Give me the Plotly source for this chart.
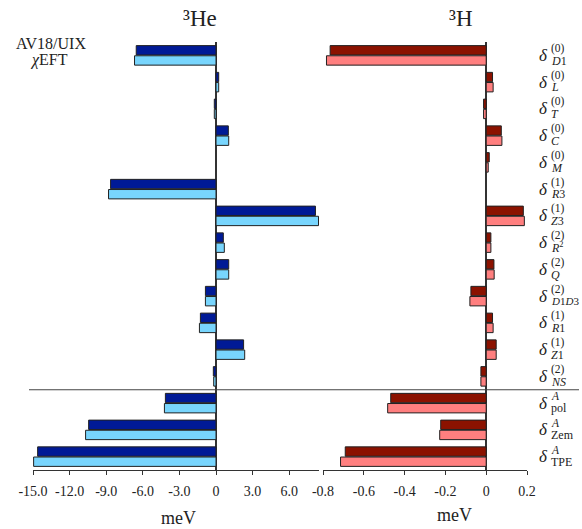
import plotly.graph_objects as go

# ---- data (meV) ----
rows = ["D1", "L", "T", "C", "M", "R3", "Z3", "R2", "Q", "D1D3", "R1", "Z1", "NS", "pol", "Zem", "TPE"]
sub_labels = ["<i>D</i>1", "<i>L</i>", "<i>T</i>", "<i>C</i>", "<i>M</i>", "<i>R</i>3", "<i>Z</i>3",
              "<i>R</i><sup>2</sup>", "<i>Q</i>", "<i>D</i>1<i>D</i>3", "<i>R</i>1", "<i>Z</i>1",
              "<i>NS</i>", "pol", "Zem", "TPE"]
sup_labels = ["(0)", "(0)", "(0)", "(0)", "(0)", "(1)", "(1)", "(2)", "(2)", "(2)", "(1)", "(1)", "(2)",
              "<i>A</i>", "<i>A</i>", "<i>A</i>"]

he_av18 = [-6.54, 0.22, -0.14, 1.01, None, -8.64, 8.15, 0.60, 1.04, -0.87, -1.28, 2.26, -0.22, -4.15, -10.44, -14.62]
he_eft = [-6.68, 0.22, -0.14, 1.04, None, -8.81, 8.40, 0.68, 1.04, -0.87, -1.36, 2.35, -0.19, -4.23, -10.69, -14.95]
h_av18 = [-0.765, 0.031, -0.013, 0.074, 0.015, None, 0.182, 0.023, 0.038, -0.075, 0.031, 0.049, -0.026, -0.468, -0.223, -0.691]
h_eft = [-0.783, 0.034, -0.013, 0.077, 0.010, None, 0.187, 0.023, 0.039, -0.080, 0.034, 0.049, -0.026, -0.483, -0.228, -0.714]

he_tickvals = [-15, -12, -9, -6, -3, 0, 3, 6]
he_ticktext = ["-15.0", "-12.0", "-9.0", "-6.0", "-3.0", "0", "3.0", "6.0"]
h_tickvals = [-0.8, -0.6, -0.4, -0.2, 0, 0.2]
h_ticktext = ["-0.8", "-0.6", "-0.4", "-0.2", "0", "0.2"]

# ---- styling ----
W, H = 582, 529
TOP_PX, BOT_PX = 42, 470     # plot area in window pixels
MT = TOP_PX
MB = H - BOT_PX
PH = H - MT - MB
FONT = "Liberation Serif"
C_DB, C_LB = "#001a96", "#78d5fd"
C_DR, C_LR = "#8b1200", "#ff7f7f"
EDGE = dict(color="#222222", width=1)

ypos = list(range(len(rows)))

def px_x(x):
    return x / W

def px_y(y):
    return (BOT_PX - y) / PH

fig = go.Figure()
fig.add_trace(go.Bar(y=ypos, x=he_av18, orientation="h", marker=dict(color=C_DB, line=EDGE),
                     xaxis="x", yaxis="y", name="AV18/UIX", showlegend=False))
fig.add_trace(go.Bar(y=ypos, x=he_eft, orientation="h", marker=dict(color=C_LB, line=EDGE),
                     xaxis="x", yaxis="y", name="χEFT", showlegend=False))
fig.add_trace(go.Bar(y=ypos, x=h_av18, orientation="h", marker=dict(color=C_DR, line=EDGE),
                     xaxis="x2", yaxis="y2", name="AV18/UIX", showlegend=False))
fig.add_trace(go.Bar(y=ypos, x=h_eft, orientation="h", marker=dict(color=C_LR, line=EDGE),
                     xaxis="x2", yaxis="y2", name="χEFT", showlegend=False))

axis_common = dict(showgrid=False, zeroline=True, zerolinecolor="#333333", zerolinewidth=1.5,
                   showline=True, linecolor="#333333", linewidth=1, ticks="outside", ticklen=4,
                   tickcolor="#333333", tickfont=dict(family=FONT, size=14, color="#222222"),
                   ticklabelstandoff=4, automargin=False)

yaxis_common = dict(range=[len(rows) - 0.5, -0.5], showgrid=False, zeroline=False, showline=False,
                    showticklabels=False, ticks="", domain=[0, 1], automargin=False)

fig.update_layout(
    template="none",
    width=W, height=H, autosize=False,
    margin=dict(l=0, r=0, t=MT, b=MB, pad=0),
    paper_bgcolor="white", plot_bgcolor="white",
    barmode="group", bargap=0.24, bargroupgap=0.08,
    xaxis=dict(domain=[px_x(33), px_x(319)], range=[-15.0, 8.44], tickvals=he_tickvals,
               ticktext=he_ticktext, anchor="y", **axis_common),
    xaxis2=dict(domain=[px_x(323), px_x(527)], range=[-0.8, 0.2], tickvals=h_tickvals,
                ticktext=h_ticktext, anchor="y2", **axis_common),
    yaxis=dict(anchor="x", **yaxis_common),
    yaxis2=dict(anchor="x2", matches="y", **yaxis_common),
    font=dict(family=FONT, color="#222222"),
)

ann = []
# titles
ann.append(dict(text="³He", x=px_x(200), y=px_y(19), font=dict(size=23)))
ann.append(dict(text="³H", x=px_x(461), y=px_y(19), font=dict(size=23)))
# legend text
ann.append(dict(text="AV18/UIX", x=px_x(51), y=px_y(44), font=dict(size=16)))
ann.append(dict(text="<i>χ</i>EFT", x=px_x(49), y=px_y(60), font=dict(size=16)))
# axis titles
ann.append(dict(text="meV", x=px_x(178), y=px_y(518), font=dict(size=18)))
ann.append(dict(text="meV", x=px_x(454), y=px_y(515), font=dict(size=18)))
for a in ann:
    a.update(xref="paper", yref="paper", showarrow=False, xanchor="center", yanchor="middle")

for i in ypos:
    ann.append(dict(text="<i>δ</i>", x=px_x(543), y=i, xref="paper", yref="y", showarrow=False,
                    xanchor="center", yanchor="middle", font=dict(size=17)))
    ann.append(dict(text=sup_labels[i], x=px_x(549), y=i - 0.26, xref="paper", yref="y", showarrow=False,
                    xanchor="left", yanchor="middle", font=dict(size=11.5)))
    ann.append(dict(text=sub_labels[i], x=px_x(549), y=i + 0.2, xref="paper", yref="y", showarrow=False,
                    xanchor="left", yanchor="middle",
                    font=dict(size=11 if rows[i] == "D1D3" else 12)))

fig.update_layout(annotations=ann)

# separator line between individual terms and totals
fig.add_shape(type="line", xref="paper", yref="y", x0=px_x(29), x1=px_x(579), y0=12.5, y1=12.5,
              line=dict(color="#444444", width=1))

fig.write_html("out.html", config={"displayModeBar": False},
               post_script="document.body.style.margin='0px';document.body.style.overflow='hidden';")
